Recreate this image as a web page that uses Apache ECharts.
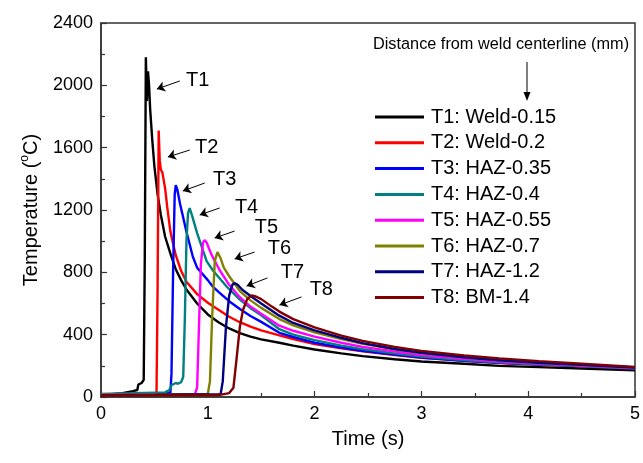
<!DOCTYPE html>
<html>
<head>
<meta charset="utf-8">
<script src="https://cdn.jsdelivr.net/npm/echarts@6/dist/echarts.min.js"></script>
<style>html,body{margin:0;padding:0;background:#fff}#c{width:643px;height:463px}</style>
</head>
<body>
<div id="c"></div>
<script>
const seriesNames = ['T1: Weld-0.15','T2: Weld-0.2','T3: HAZ-0.35','T4: HAZ-0.4','T5: HAZ-0.55','T6: HAZ-0.7','T7: HAZ-1.2','T8: BM-1.4'];
const seriesColors = ['#000000','#ff0000','#0000ff','#008080','#ff00ff','#808000','#000080','#800000'];
const yTicks = [0,400,800,1200,1600,2000,2400];
const xTicks = [0,1,2,3,4,5];

const t1 = [[0,15],[0.1,18],[0.2,25],[0.3,38],[0.34,45],[0.35,80],[0.38,90],[0.40,110],[0.41,900],[0.42,2180],[0.43,1900],[0.44,2090],[0.45,2000],[0.46,1850],[0.48,1650],[0.5,1480],[0.53,1300],[0.56,1170],[0.6,1030],[0.65,920],[0.7,820],[0.75,750],[0.8,690],[0.9,600],[1.0,530],[1.1,480],[1.2,440],[1.3,410],[1.4,388],[1.5,370],[1.67,348],[1.8,330],[2.0,305],[2.25,280],[2.45,262],[2.75,242],[3.0,228],[3.4,213],[3.73,200],[4.1,192],[4.5,183],[5.0,172]];
const t2 = [[0,12],[0.3,14],[0.5,18],[0.52,30],[0.53,700],[0.54,1710],[0.55,1520],[0.56,1460],[0.575,1440],[0.6,1340],[0.62,1220],[0.65,1060],[0.7,910],[0.75,810],[0.8,740],[0.9,660],[1.0,605],[1.1,560],[1.2,515],[1.3,480],[1.4,452],[1.5,428],[1.67,395],[1.8,372],[2.0,340],[2.25,312],[2.45,293],[2.75,269],[3.0,251],[3.4,232],[3.73,218],[4.1,207],[4.5,197],[5.0,183]];
const t3 = [[0,18],[0.3,20],[0.6,22],[0.65,28],[0.66,150],[0.675,800],[0.69,1300],[0.70,1360],[0.715,1330],[0.74,1240],[0.77,1150],[0.8,1060],[0.86,900],[0.9,830],[1.0,750],[1.05,706],[1.1,675],[1.2,615],[1.3,565],[1.4,520],[1.5,482],[1.67,412],[1.8,385],[2.0,348],[2.25,318],[2.45,297],[2.75,272],[3.0,253],[3.4,233],[3.73,220],[4.1,209],[4.5,198],[5.0,183]];
const t4 = [[0,20],[0.3,24],[0.6,30],[0.64,45],[0.66,75],[0.7,90],[0.72,85],[0.75,95],[0.77,130],[0.785,500],[0.80,1000],[0.815,1180],[0.83,1212],[0.85,1170],[0.9,1052],[0.95,950],[0.99,870],[1.05,810],[1.1,770],[1.18,706],[1.3,625],[1.4,570],[1.5,525],[1.67,435],[1.8,400],[2.0,365],[2.25,330],[2.45,307],[2.75,280],[3.0,259],[3.4,237],[3.73,222],[4.1,210],[4.5,199],[5.0,184]];
const t5 = [[0,15],[0.5,16],[0.88,20],[0.9,60],[0.915,400],[0.935,850],[0.955,990],[0.97,1007],[0.99,990],[1.03,920],[1.11,815],[1.2,720],[1.3,640],[1.4,580],[1.5,535],[1.67,458],[1.8,425],[2.0,387],[2.25,348],[2.45,322],[2.75,292],[3.0,269],[3.4,245],[3.73,228],[4.1,215],[4.5,202],[5.0,186]];
const t6 = [[0,15],[0.5,16],[1.0,20],[1.02,100],[1.04,500],[1.065,870],[1.09,930],[1.12,890],[1.15,830],[1.2,775],[1.3,680],[1.4,620],[1.5,572],[1.67,500],[1.8,460],[2.0,415],[2.25,372],[2.45,342],[2.75,306],[3.0,282],[3.4,254],[3.73,235],[4.1,220],[4.5,206],[5.0,189]];
const t7 = [[0,12],[0.5,14],[1.12,18],[1.14,100],[1.17,450],[1.2,650],[1.23,720],[1.25,731],[1.28,720],[1.32,690],[1.4,648],[1.5,600],[1.67,522],[1.8,475],[2.0,428],[2.25,380],[2.45,346],[2.75,308],[3.0,284],[3.4,255],[3.73,236],[4.1,220],[4.5,206],[5.0,189]];
const t8 = [[0,10],[0.5,11],[1.1,12],[1.2,25],[1.24,60],[1.27,250],[1.3,450],[1.33,560],[1.37,630],[1.41,652],[1.45,645],[1.5,628],[1.6,580],[1.67,548],[1.8,500],[2.0,447],[2.25,394],[2.45,360],[2.75,322],[3.0,296],[3.4,267],[3.73,248],[4.1,230],[4.5,214],[5.0,193]];
const seriesData = [t1,t2,t3,t4,t5,t6,t7,t8];

// annotation labels and arrows (data coordinates)
const annoLabels = ['T1','T2','T3','T4','T5','T6','T7','T8'];
const annoText = [[0.906,2028],[0.99,1604],[1.158,1399],[1.363,1219],[1.55,1091],[1.671,956],[1.793,802],[2.063,687]];
const annoFrom = [[0.738,2028],[0.831,1585],[0.971,1373],[1.111,1213],[1.251,1065],[1.438,930],[1.559,764],[1.877,642]];
const annoTo = [[0.523,1976],[0.626,1540],[0.766,1322],[0.924,1168],[1.064,1020],[1.251,886],[1.363,712],[1.671,590]];

const FONT = 'Liberation Sans, Arial, sans-serif';
const chart = echarts.init(document.getElementById('c'), null, {renderer:'canvas'});

const series = seriesData.map((d,i) => ({
  name: seriesNames[i],
  type: 'line',
  data: d,
  showSymbol: false,
  symbol: 'none',
  lineStyle: {color: seriesColors[i], width: 2.4},
  itemStyle: {color: seriesColors[i]},
  z: 2 + i,
  animation: false,
  markLine: {
    silent: true,
    symbol: ['none','arrow'],
    symbolSize: 8,
    lineStyle: {color: '#000', width: 1, type: 'solid'},
    itemStyle: {color: '#000'},
    label: {show: false},
    data: [[{coord: annoFrom[i]}, {coord: annoTo[i]}]]
  },
  markPoint: {
    silent: true,
    symbol: 'circle',
    symbolSize: 0,
    label: {show: true, formatter: annoLabels[i], color: '#000', fontSize: 20, fontFamily: FONT, position: 'inside'},
    data: [{coord: annoText[i]}]
  }
}));

chart.setOption({
  animation: false,
  backgroundColor: '#fff',
  grid: {left: 101, right: 6, top: 23, bottom: 66, show: true, borderColor: '#333', borderWidth: 1.5, backgroundColor: 'transparent'},
  xAxis: {
    type: 'value', min: 0, max: 5, interval: 1,
    name: 'Time (s)', nameLocation: 'middle', nameGap: 32,
    nameTextStyle: {fontSize: 20, color: '#000', fontFamily: FONT},
    axisLine: {show: true, lineStyle: {color: '#333', width: 1.5}},
    axisTick: {show: true, inside: true, length: 6, lineStyle: {color: '#333', width: 1.2}},
    minorTick: {show: true, splitNumber: 2, length: 4, lineStyle: {color: '#333', width: 1.2}},
    splitLine: {show: false},
    axisLabel: {fontSize: 18, color: '#000', fontFamily: FONT, margin: 8,
      formatter: v => xTicks.includes(v) ? String(v) : ''}
  },
  yAxis: {
    type: 'value', min: 0, max: 2400, interval: 400,
    name: 'Temperature ({sup|o}C)', nameLocation: 'middle', nameGap: 58, nameRotate: 90,
    nameTextStyle: {fontSize: 20, color: '#000', fontFamily: FONT,
      rich: {sup: {fontSize: 12, verticalAlign: 'bottom', padding: [0,0,12,0], color: '#000', fontFamily: FONT}}},
    axisLine: {show: true, lineStyle: {color: '#333', width: 1.5}},
    axisTick: {show: true, inside: true, length: 6, lineStyle: {color: '#333', width: 1.2}},
    minorTick: {show: true, splitNumber: 2, length: 4, lineStyle: {color: '#333', width: 1.2}},
    splitLine: {show: false},
    axisLabel: {fontSize: 18, color: '#000', fontFamily: FONT, margin: 8,
      formatter: v => yTicks.includes(v) ? String(v) : ''}
  },
  legend: {
    data: seriesNames,
    orient: 'vertical', left: 375, top: 107, padding: 0,
    icon: 'rect', itemWidth: 49, itemHeight: 3, itemGap: 5.8,
    textStyle: {fontSize: 20, color: '#000', fontFamily: FONT, padding: [0,0,0,2]},
    selectedMode: false
  },
  graphic: [
    {type: 'text', left: 373, top: 37, style: {text: 'Distance from weld centerline (mm)', fontSize: 16.3, fontFamily: FONT, fill: '#000'}},
    {type: 'line', shape: {x1: 527, y1: 62, x2: 527, y2: 94}, style: {stroke: '#000', lineWidth: 1}},
    {type: 'polygon', shape: {points: [[523.5,92],[530.5,92],[527,101]]}, style: {fill: '#000'}}
  ],
  series: series
});
</script>
</body>
</html>
